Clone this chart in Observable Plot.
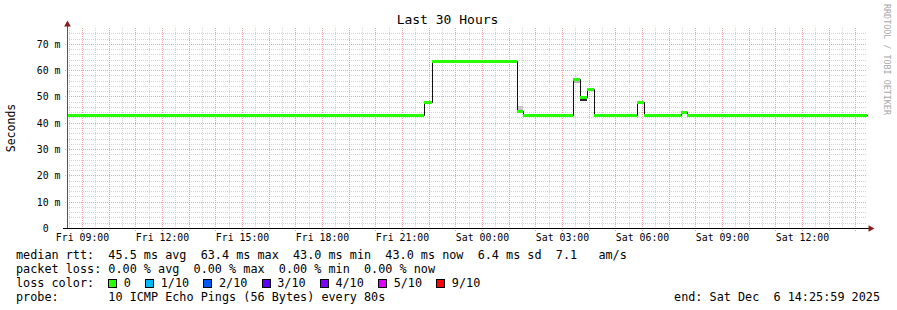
<!DOCTYPE html>
<html>
<head>
<meta charset="utf-8">
<script src="https://cdn.jsdelivr.net/npm/d3@7"></script>
<script src="https://cdn.jsdelivr.net/npm/@observablehq/plot@0.6"></script>
<style>
html,body{margin:0;padding:0;background:#fff;}
#chart{position:relative;width:897px;height:310px;overflow:hidden;font-family:"DejaVu Sans Mono",monospace;color:#000;background:#fff;}
#chart svg{position:absolute;left:0;top:0;}
.title{position:absolute;left:0;width:895px;text-align:center;top:12px;font-size:13px;line-height:16px;white-space:pre;}
.ylabel{position:absolute;left:11px;top:128px;font-size:11.5px;line-height:14px;transform:translate(-50%,-50%) rotate(-90deg);white-space:pre;}
.wm{position:absolute;left:882px;top:4px;font-size:8.4px;line-height:10px;color:#a8a8a8;writing-mode:vertical-rl;white-space:pre;}
.leg{position:absolute;left:16px;font-size:11.8px;line-height:14px;white-space:pre;}
.end{position:absolute;right:17px;font-size:11.8px;line-height:14px;white-space:pre;}
.box{display:inline-block;width:9px;height:9px;box-sizing:border-box;border:1px solid #000;vertical-align:-1px;margin-right:6.5px;}
.item{margin-right:14.3px;}
</style>
</head>
<body>
<div id="chart"></div>
<script>
// ---- data ----
const titleText = "Last 30 Hours";
const yAxisLabel = "Seconds";
const startTime = "2025-12-05T08:25:59Z";
const endTime = "2025-12-06T14:25:59Z";

// median RTT step changes (start time of each step, value in ms)
const stepStart = [
  "2025-12-05T08:25:59Z",
  "2025-12-05T21:49:55Z",
  "2025-12-05T22:06:34Z",
  "2025-12-06T01:17:49Z",
  "2025-12-06T01:32:40Z",
  "2025-12-06T03:25:10Z",
  "2025-12-06T03:40:55Z",
  "2025-12-06T03:56:40Z",
  "2025-12-06T04:12:25Z",
  "2025-12-06T05:49:10Z",
  "2025-12-06T06:04:55Z",
  "2025-12-06T07:26:49Z",
  "2025-12-06T07:41:40Z"
];
const medianMs = [43.0, 48.0, 63.4, 44.6, 43.0, 56.5, 49.7, 53.0, 43.0, 48.0, 43.0, 43.9, 43.0];

// smoke (ping spread) patches
const smokeStart = ["2025-12-06T01:17:49Z", "2025-12-06T03:25:10Z", "2025-12-06T03:40:55Z"];
const smokeEnd   = ["2025-12-06T01:32:40Z", "2025-12-06T03:40:55Z", "2025-12-06T03:56:40Z"];
const smokeLo    = [44.6, 55.0, 48.3];
const smokeHi    = [46.4, 56.5, 49.7];
const smokeShade = ["#c8c8c8", "#b4b4b4", "#2a2a2a"];

const xTickTimes = [
  "2025-12-05T09:00:00Z","2025-12-05T12:00:00Z","2025-12-05T15:00:00Z","2025-12-05T18:00:00Z",
  "2025-12-05T21:00:00Z","2025-12-06T00:00:00Z","2025-12-06T03:00:00Z","2025-12-06T06:00:00Z",
  "2025-12-06T09:00:00Z","2025-12-06T12:00:00Z"
];
const xTickLabels = ["Fri 09:00","Fri 12:00","Fri 15:00","Fri 18:00","Fri 21:00","Sat 00:00","Sat 03:00","Sat 06:00","Sat 09:00","Sat 12:00"];
const yTicks = [0, 10, 20, 30, 40, 50, 60, 70];
const yTickLabels = ["0\u00a0\u00a0", "10 m", "20 m", "30 m", "40 m", "50 m", "60 m", "70 m"];
const yMax = 76;

const rttLine = "median rtt:  45.5 ms avg  63.4 ms max  43.0 ms min  43.0 ms now  6.4 ms sd  7.1   am/s";
const lossLine = "packet loss: 0.00 % avg  0.00 % max  0.00 % min  0.00 % now";
const lossLabels = ["0", "1/10", "2/10", "3/10", "4/10", "5/10", "9/10"];
const lossColors = ["#26ff00", "#00b8ff", "#0059ff", "#5e00ff", "#7e00ff", "#dd00ff", "#ff0000"];
const probeLine = "probe:       10 ICMP Echo Pings (56 Bytes) every 80s";
const endLine = "end: Sat Dec  6 14:25:59 2025";
const watermark = "RRDTOOL / TOBI OETIKER";

// ---- build ----
const t0 = new Date(startTime), t1 = new Date(endTime);
const steps = stepStart.map((s, i) => ({
  x1: new Date(s),
  x2: new Date(i + 1 < stepStart.length ? stepStart[i + 1] : endTime),
  y: medianMs[i]
}));
const linePts = steps.map(d => ({x: d.x1, y: d.y})).concat([{x: t1, y: medianMs[medianMs.length - 1]}]);
const smoke = smokeStart.map((s, i) => ({x1: new Date(s), x2: new Date(smokeEnd[i]), y1: smokeLo[i], y2: smokeHi[i], fill: smokeShade[i]}));

const majorX = d3.utcHour.range(d3.utcHour.ceil(t0), t1);
const minorX = d3.utcMinute.every(30).range(t0, t1).filter(d => d.getUTCMinutes() !== 0);
const majorY = d3.range(10, yMax, 10);
const minorY = d3.range(2, yMax, 2).filter(v => v % 10 !== 0);
const xLabelMap = new Map(xTickTimes.map((s, i) => [+new Date(s), xTickLabels[i]]));
const yLabelMap = new Map(yTicks.map((v, i) => [v, yTickLabels[i]]));

const GRID = "#d2d2d2", MGRID = "#f0a0a0", ARROW = "#8b1a1a";

const plot = Plot.plot({
  width: 897,
  height: 310,
  marginLeft: 67,
  marginRight: 30,
  marginTop: 28,
  marginBottom: 82,
  style: {fontFamily: "DejaVu Sans Mono, monospace", fontSize: "9.85px", background: "transparent", color: "#000"},
  x: {type: "utc", domain: [t0, t1], round: true},
  y: {domain: [0, yMax], round: true},
  marks: [
    Plot.ruleX(minorX, {stroke: GRID, strokeDasharray: "1,1"}),
    Plot.ruleY(minorY, {stroke: GRID, strokeDasharray: "1,1"}),
    Plot.ruleX(majorX, {stroke: MGRID, strokeDasharray: "1,1", insetBottom: -3}),
    Plot.ruleY(majorY, {stroke: MGRID, strokeDasharray: "1,1", insetLeft: -2}),
    Plot.rect(smoke, {x1: "x1", x2: "x2", y1: "y1", y2: "y2", fill: d => d.fill}),
    Plot.line(linePts, {x: "x", y: "y", curve: "step-after", stroke: "#111", strokeWidth: 1}),
    Plot.ruleY(steps, {x1: "x1", x2: "x2", y: "y", stroke: lossColors[0], strokeWidth: 3}),
    Plot.ruleY([0], {stroke: "#000", insetLeft: -4, insetRight: -2}),
    Plot.ruleX([t0], {stroke: "#555", insetTop: -3}),
    Plot.dot([0], {frameAnchor: "top-left", symbol: "triangle", r: 2.5, fill: ARROW, stroke: "none", dy: -4}),
    Plot.dot([0], {frameAnchor: "bottom-right", symbol: "triangle", r: 2.5, fill: ARROW, stroke: "none", rotate: 90, dx: 3}),
    Plot.axisX(xTickTimes.map(s => new Date(s)), {tickSize: 0, tickPadding: 5, tickFormat: d => xLabelMap.get(+d), fontSize: 9.85, fill: "#000", label: null}),
    Plot.axisY(yTicks, {tickSize: 0, tickPadding: 7, tickFormat: v => yLabelMap.get(v), fontSize: 9.85, fill: "#000", label: null})
  ]
});

const chart = document.getElementById("chart");
chart.appendChild(plot);

function addDiv(cls, text, top) {
  const d = document.createElement("div");
  d.className = cls;
  if (text != null) d.textContent = text;
  if (top != null) d.style.top = top + "px";
  chart.appendChild(d);
  return d;
}
addDiv("title", titleText);
addDiv("ylabel", yAxisLabel);
addDiv("wm", watermark);
addDiv("leg", rttLine, 247.5);
addDiv("leg", lossLine, 261.5);
const lc = addDiv("leg", null, 275.5);
lc.appendChild(document.createTextNode("loss color:  "));
lossLabels.forEach((lab, i) => {
  const b = document.createElement("span");
  b.className = "box";
  b.style.background = lossColors[i];
  lc.appendChild(b);
  const s = document.createElement("span");
  s.className = "item";
  s.textContent = lab;
  lc.appendChild(s);
});
addDiv("leg", probeLine, 289.5);
addDiv("end", endLine, 289.5);
</script>
</body>
</html>
